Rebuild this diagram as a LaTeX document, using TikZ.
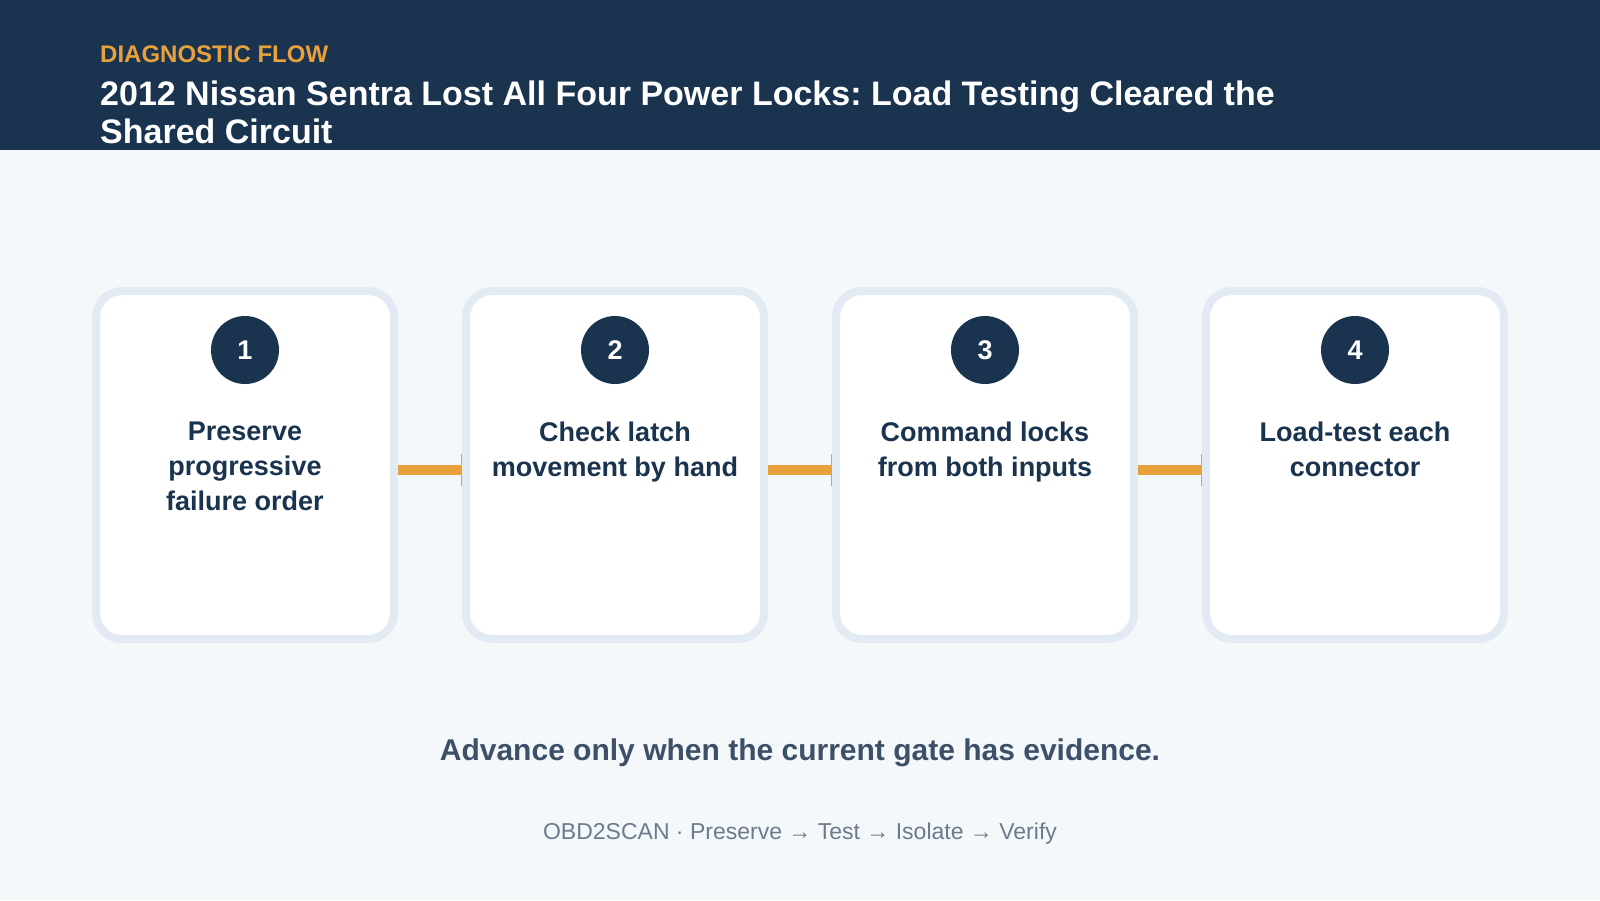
\documentclass[tikz,border=0pt]{standalone}
\usepackage{fontspec}
\setmainfont{Liberation Sans}
\usetikzlibrary{calc}
\frenchspacing
\definecolor{navy}{HTML}{1A334F}
\definecolor{bgc}{HTML}{F5F8FB}
\definecolor{edge}{HTML}{E2EAF3}
\definecolor{orng}{HTML}{E9A23B}
\definecolor{slate}{HTML}{3D5068}
\definecolor{grayt}{HTML}{6B7A8C}
\tikzset{
  stepbox/.style={draw=edge, fill=white, line width=8pt, rounded corners=26pt,
    minimum width=298pt, minimum height=348pt, inner sep=0pt},
  numdot/.style={circle, fill=navy, minimum size=68pt, inner sep=0pt,
    text=white, font=\bfseries\fontsize{27}{30}\selectfont},
  steplabel/.style={anchor=north, align=center, inner sep=0pt, text=navy,
    font=\bfseries\fontsize{27}{35}\selectfont},
  bar/.style={draw=orng, line width=10pt},
  tick/.style={draw=orng, line width=1.5pt},
}
\begin{document}
\begin{tikzpicture}[x=1pt,y=-1pt]
\useasboundingbox (0,0) rectangle (1600,900);
\fill[bgc] (0,0) rectangle (1600,900);
\fill[navy] (0,0) rectangle (1600,150);
\node[anchor=base west, inner sep=0pt, text=orng, font=\bfseries\fontsize{24}{28}\selectfont] (kicker) at (100,62) {DIAGNOSTIC FLOW};
\node[anchor=north west, inner sep=0pt, align=left, text=white, font=\bfseries\fontsize{34}{37.5}\selectfont] (title) at (100,81) {2012 Nissan Sentra Lost All Four Power Locks: Load Testing Cleared the\\Shared Circuit};

\foreach \i/\txt in {1/{Preserve\\progressive\\failure order},2/{Check latch\\movement by hand},3/{Command locks\\from both inputs},4/{Load-test each\\connector}}{
  \node[stepbox] (box\i) at ({245+370*(\i-1)},465) {};
  \node[numdot] (num\i) at ({245+370*(\i-1)},350) {\i};
  \node[steplabel] (lab\i) at ({245+370*(\i-1)},422) {\txt};
}
\foreach \a/\b in {1/2,2/3,3/4}{
  \draw[bar] ([yshift=-5pt]box\a.east) -- ([yshift=-5pt]box\b.west);
  \draw[tick] ([xshift=-0.75pt,yshift=-21pt]box\b.west) -- ([xshift=-0.75pt,yshift=11pt]box\b.west);
}
\node[anchor=base, inner sep=0pt, text=slate, font=\bfseries\fontsize{30}{34}\selectfont] (note) at (800,760) {Advance only when the current gate has evidence.};
\node[anchor=base, inner sep=0pt, text=grayt, font=\fontsize{23}{27}\selectfont] (foot) at (800,839) {OBD2SCAN · Preserve → Test → Isolate → Verify};
\end{tikzpicture}
\end{document}
